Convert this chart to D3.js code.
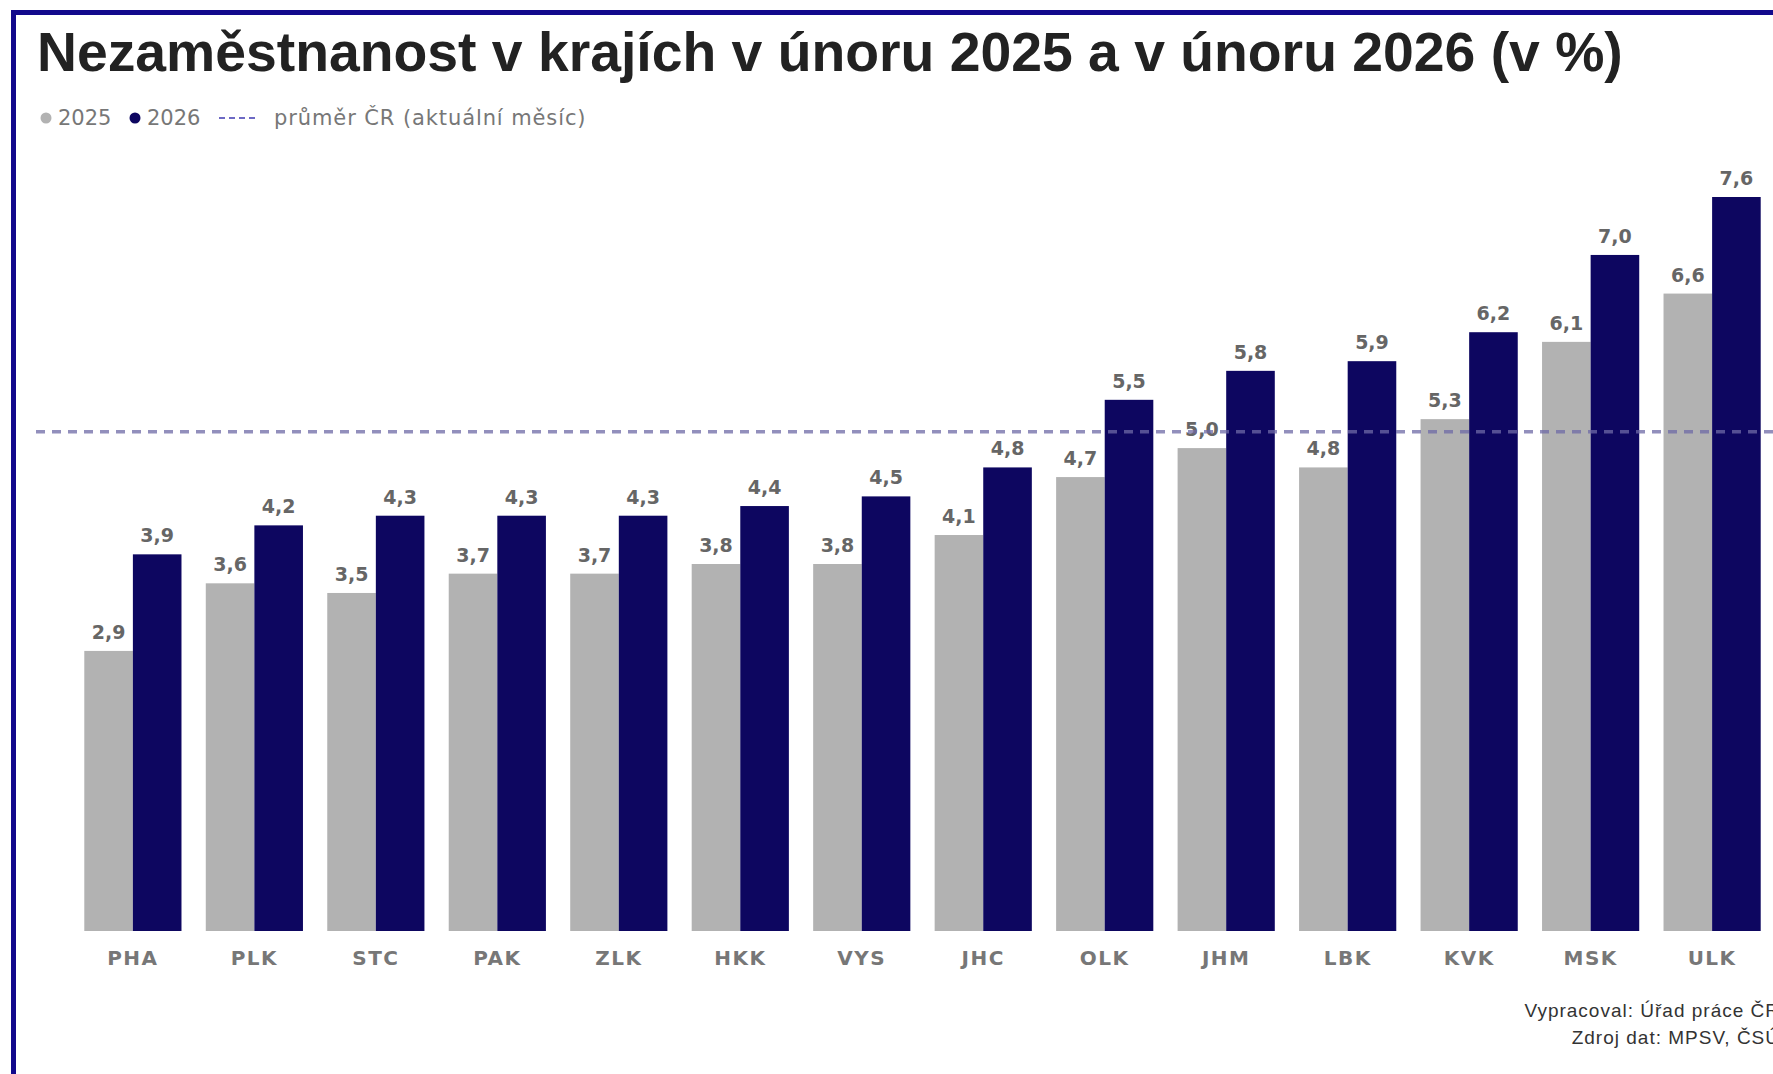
<!DOCTYPE html>
<html>
<head>
<meta charset="utf-8">
<script src="https://cdn.jsdelivr.net/npm/d3@7"></script>
<style>
    body { margin: 0; background: #fff; overflow: hidden; }
    #chart-area { width: 1773px; height: 1074px; overflow: hidden; }
</style>
</head>
<body>
<div id="chart-area"></div>
<script>
// kraje (zkratky)
let regions = ["PHA", "PLK", "STC", "PAK", "ZLK", "HKK", "VYS", "JHC", "OLK", "JHM", "LBK", "KVK", "MSK", "ULK"];
// nezaměstnanost v únoru 2025 a 2026 (%)
let values2025 = [2.9, 3.6, 3.5, 3.7, 3.7, 3.8, 3.8, 4.1, 4.7, 5.0, 4.8, 5.3, 6.1, 6.6];
let values2026 = [3.9, 4.2, 4.3, 4.3, 4.3, 4.4, 4.5, 4.8, 5.5, 5.8, 5.9, 6.2, 7.0, 7.6];
let seriesNames = ["2025", "2026"];
// průměr ČR (aktuální měsíc)
let averageCR = 5.17;

class BarVis {

    constructor(parentElement) {
        this.parentElement = parentElement;
        this.initVis();
    }

    initVis() {
        let vis = this;

        vis.width = 1773;
        vis.height = 1074;
        vis.colors = ["#b2b2b2", "#0d0660"];

        vis.svg = d3.select("#" + vis.parentElement).append("svg")
            .attr("width", vis.width)
            .attr("height", vis.height);

        // frame
        vis.svg.append("rect")
            .attr("x", 13.5)
            .attr("y", 12.5)
            .attr("width", 1900)
            .attr("height", 1200)
            .attr("fill", "#fff")
            .attr("stroke", "#12098c")
            .attr("stroke-width", 5);

        // title
        vis.svg.append("text")
            .attr("x", 37)
            .attr("y", 71)
            .attr("font-family", "'Liberation Sans', Arial, sans-serif")
            .attr("font-weight", "bold")
            .attr("font-size", 55.3)
            .attr("fill", "#222")
            .text("Nezaměstnanost v krajích v únoru 2025 a v únoru 2026 (v %)");

        vis.xScale = d3.scaleBand()
            .domain(regions)
            .range([60, 1785])
            .paddingInner(0.2)
            .paddingOuter(0.2);

        vis.xSub = d3.scaleBand()
            .domain(seriesNames)
            .range([0, vis.xScale.bandwidth()]);

        vis.yScale = d3.scaleLinear()
            .domain([0, d3.max(values2026)])
            .range([931, 197]);

        vis.wrangleData();
    }

    wrangleData() {
        let vis = this;

        vis.displayData = [];
        regions.forEach((r, i) => {
            vis.displayData.push({region: r, series: "2025", value: values2025[i]});
            vis.displayData.push({region: r, series: "2026", value: values2026[i]});
        });

        vis.updateVis();
    }

    updateVis() {
        let vis = this;
        let fmt = d => d3.format(".1f")(d).replace(".", ",");

        // bars
        vis.svg.append("g")
            .selectAll("rect")
            .data(vis.displayData)
            .enter()
            .append("rect")
            .attr("x", d => vis.xScale(d.region) + vis.xSub(d.series))
            .attr("y", d => vis.yScale(d.value))
            .attr("width", vis.xSub.bandwidth())
            .attr("height", d => vis.yScale(0) - vis.yScale(d.value))
            .attr("fill", d => vis.colors[seriesNames.indexOf(d.series)]);

        // value labels
        vis.svg.append("g")
            .selectAll("text")
            .data(vis.displayData)
            .enter()
            .append("text")
            .attr("x", d => vis.xScale(d.region) + vis.xSub(d.series) + vis.xSub.bandwidth() / 2)
            .attr("y", d => vis.yScale(d.value) - 12)
            .attr("text-anchor", "middle")
            .attr("font-family", "'DejaVu Sans', Verdana, sans-serif")
            .attr("font-weight", "bold")
            .attr("font-size", 19)
            .attr("fill", "#666")
            .text(d => fmt(d.value));

        // average line (drawn over the bars)
        vis.svg.append("line")
            .attr("x1", 36)
            .attr("x2", 1800)
            .attr("y1", vis.yScale(averageCR))
            .attr("y2", vis.yScale(averageCR))
            .attr("stroke", "#6e6aa6")
            .attr("stroke-opacity", 0.75)
            .attr("stroke-width", 3.5)
            .attr("stroke-dasharray", "9,7");

        // x axis
        vis.xAxis = d3.axisBottom(vis.xScale).tickSize(0).tickPadding(0);
        let axisG = vis.svg.append("g")
            .attr("transform", "translate(0,931)")
            .call(vis.xAxis);
        axisG.select(".domain").remove();
        axisG.selectAll("text")
            .attr("dy", 0)
            .attr("y", 34)
            .attr("font-family", "'DejaVu Sans', Verdana, sans-serif")
            .attr("font-weight", "bold")
            .attr("font-size", 20)
            .attr("letter-spacing", 1.5)
            .attr("fill", "#777");

        // legend
        let legend = vis.svg.append("g")
            .attr("font-family", "'DejaVu Sans', Verdana, sans-serif")
            .attr("font-size", 21)
            .attr("fill", "#777");
        let legendX = [46, 135];
        seriesNames.forEach((s, i) => {
            legend.append("circle")
                .attr("cx", legendX[i])
                .attr("cy", 118)
                .attr("r", 5.5)
                .attr("fill", vis.colors[i]);
            legend.append("text")
                .attr("x", legendX[i] + 12)
                .attr("y", 125)
                .text(s);
        });
        legend.append("line")
            .attr("x1", 219)
            .attr("x2", 258)
            .attr("y1", 118)
            .attr("y2", 118)
            .attr("stroke", "#6d69c4")
            .attr("stroke-width", 2)
            .attr("stroke-dasharray", "6,4");
        legend.append("text")
            .attr("x", 274)
            .attr("y", 125)
            .attr("letter-spacing", 0.9)
            .text("průměr ČR (aktuální měsíc)");

        // source
        let source = vis.svg.append("g")
            .attr("font-family", "'Liberation Sans', Arial, sans-serif")
            .attr("font-size", 19)
            .attr("letter-spacing", 1)
            .attr("fill", "#333")
            .attr("text-anchor", "end");
        source.append("text").attr("x", 1780).attr("y", 1017).text("Vypracoval: Úřad práce ČR");
        source.append("text").attr("x", 1780).attr("y", 1044).text("Zdroj dat: MPSV, ČSÚ");
    }
}

let barVis = new BarVis("chart-area");
</script>
</body>
</html>
